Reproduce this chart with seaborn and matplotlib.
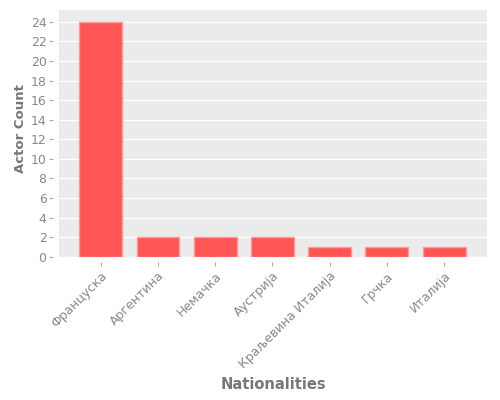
import matplotlib
matplotlib.use("Agg")
import matplotlib.pyplot as plt
import seaborn as sns
import pandas as pd

nationalities = ["Француска", "Аргентина", "Немачка", "Аустрија", "Краљевина Италија", "Грчка", "Италија"]
actor_counts = [24, 2, 2, 2, 1, 1, 1]

sns.set_theme(style="darkgrid", rc={
    "axes.facecolor": "#EBEBEB",
    "grid.color": "white",
    "grid.linewidth": 1.0,
    "xtick.bottom": True,
    "ytick.left": True,
    "xtick.major.size": 3,
    "ytick.major.size": 3,
    "xtick.major.width": 0.8,
    "ytick.major.width": 0.8,
})
plt.rcParams['font.family'] = ['DejaVu Sans']

df = pd.DataFrame({"Nationalities": nationalities, "Actor Count": actor_counts})

fig, ax = plt.subplots(figsize=(5, 4), dpi=100)
for s in ax.spines.values():
    s.set_visible(False)
ax.spines["left"].set_position(("outward", 4))
ax.spines["bottom"].set_position(("outward", 4))
sns.barplot(data=df, x="Nationalities", y="Actor Count", color="#FF5555",
            edgecolor="#FF9999", linewidth=1, width=0.75, saturation=1, ax=ax)
ax.set_ylim(0, 25.2)
ax.set_xlim(-0.73, 6.75)
ax.set_yticks(range(0, 25, 2))
ax.grid(axis="x", visible=False)
ax.tick_params(axis="both", labelsize=9, labelcolor="#888888", color="#AAAAAA", pad=2)
ax.set_xticks(range(len(nationalities)))
ax.set_xticklabels(nationalities, rotation=45, ha="right", rotation_mode="anchor")
ax.set_xlabel("Nationalities", fontsize=10.5, fontweight="bold", color="#777777", labelpad=4)
ax.set_ylabel("Actor Count", fontsize=9.5, fontweight="bold", color="#777777")
ax.yaxis.set_label_coords(-0.075, 0.52)
fig.subplots_adjust(left=0.118, right=0.974, top=0.975, bottom=0.358)
fig.savefig("out.png", dpi=100)
